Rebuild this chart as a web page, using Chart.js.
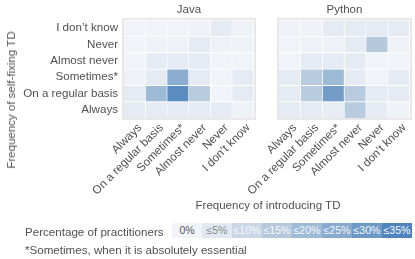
<!DOCTYPE html>
<html lang="en">

<head>
  <meta charset="UTF-8">
  <title>Self-fixing TD heatmap</title>
  <script src="https://cdn.jsdelivr.net/npm/chart.js"></script>
  <style>
    body { margin: 0; width: 415px; height: 259px; background: #fff; font-family: "Liberation Sans", Arial, sans-serif; color: #505050; position: relative; overflow: hidden; }
    canvas { position: absolute; left: 0; top: 0; }
    .txt { position: absolute; white-space: nowrap; font-size: 11.6px; }
    #ytitle { left: 11px; top: 100px; transform: translate(-50%, -50%) rotate(-90deg); font-size: 11.5px; }
    #xtitle { left: 268px; top: 205px; transform: translate(-50%, -50%); font-size: 11.5px; }
    #legTitle { left: 25px; top: 231px; transform: translateY(-50%); }
    #note { left: 25px; top: 249px; transform: translateY(-50%); }
    #legend { position: absolute; left: 172px; top: 223px; display: flex; }
    #legend div { width: 30px; height: 15px; line-height: 15px; text-align: center; font-size: 10.5px; }
  </style>
</head>

<body>
  <canvas id="javaChart" width="415" height="210"></canvas>
  <canvas id="pythonChart" width="415" height="210"></canvas>
  <div class="txt" id="ytitle">Frequency of self-fixing TD</div>
  <div class="txt" id="xtitle">Frequency of introducing TD</div>
  <div class="txt" id="legTitle">Percentage of practitioners</div>
  <div id="legend"></div>
  <div class="txt" id="note">*Sometimes, when it is absolutely essential</div>

  <script>
    // columns: frequency of introducing TD
    const colLabels = ["Always", "On a regular basis", "Sometimes*", "Almost never", "Never", "I don\u2019t know"]
    // rows, top to bottom: frequency of self-fixing TD
    const rowLabels = ["I don\u2019t know", "Never", "Almost never", "Sometimes*", "On a regular basis", "Always"]

    // percentage of practitioners, rows top to bottom
    const javaValues = [
      [0.5, 0.5, 0.5, 1, 4, 1],
      [0.5, 1, 1, 4, 1, 1],
      [0.5, 4, 4, 4, 0.5, 0.5],
      [1, 4, 24, 4, 0.5, 4],
      [4, 20, 33, 14, 0.5, 4],
      [4, 4, 4, 4, 4, 1]
    ]
    const pythonValues = [
      [1, 1, 4, 4, 4, 4],
      [0.5, 1, 1, 4, 15, 1],
      [0.5, 4, 4, 4, 0.5, 0.5],
      [4, 14, 20, 4, 0.5, 4],
      [4, 14, 29, 14, 4, 4],
      [4, 4, 3, 14, 4, 1]
    ]

    const legendBins = ["0%", "\u22645%", "\u226410%", "\u226415%", "\u226420%", "\u226425%", "\u226430%", "\u226435%"]
    const legendLevels = [0, 5, 10, 15, 20, 25, 30, 35]

    // blue colormap, stop every 5%
    const stops = [[241, 244, 249], [226, 232, 241], [203, 215, 230], [181, 200, 220], [158, 187, 214], [135, 170, 206], [110, 153, 198], [78, 132, 187]]
    function colorFor(v) {
      let t = Math.max(0, Math.min(35, v)) / 5
      let i = Math.min(6, Math.floor(t))
      let f = t - i
      let c = stops[i].map((a, k) => Math.round(a + (stops[i + 1][k] - a) * f))
      return 'rgb(' + c.join(',') + ')'
    }

    // legend boxes
    const legendEl = document.getElementById('legend')
    legendBins.forEach((lab, i) => {
      let d = document.createElement('div')
      d.textContent = lab
      d.style.background = colorFor(legendLevels[i])
      d.style.color = i >= 2 ? '#f6f8fb' : (i == 0 ? '#555' : '#888')
      legendEl.appendChild(d)
    })

    const framePlugin = {
      id: 'frame',
      afterDraw(chart) {
        const a = chart.chartArea
        const ctx = chart.ctx
        ctx.save()
        ctx.strokeStyle = '#e8e8e8'
        ctx.lineWidth = 2
        ctx.strokeRect(a.left - 1, a.top - 1, a.right - a.left + 2, a.bottom - a.top + 2)
        ctx.restore()
      }
    }

    function makeChart(id, title, values, padLeft, padRight, yWidth, showY) {
      // stacked bars, first dataset at the bottom
      let datasets = values.slice().reverse().map(row => ({
        data: row.map(() => 1),
        backgroundColor: row.map(colorFor),
        borderColor: '#fff',
        borderWidth: { top: 1, right: 1, bottom: 0, left: 0 },
        borderSkipped: false,
        barPercentage: 1,
        categoryPercentage: 1
      }))

      return new Chart(document.getElementById(id), {
        type: 'bar',
        data: { labels: colLabels, datasets: datasets },
        plugins: [framePlugin],
        options: {
          responsive: false,
          animation: false,
          events: [],
          layout: { padding: { left: padLeft, right: padRight, top: 3, bottom: 0 } },
          plugins: {
            legend: { display: false },
            tooltip: { enabled: false },
            title: {
              display: true,
              text: title,
              fullSize: false,
              color: '#505050',
              font: { family: 'Liberation Sans', size: 11.5, weight: 'normal' },
              padding: { top: 0, bottom: 3 }
            }
          },
          scales: {
            x: {
              stacked: true,
              grid: { display: false, drawTicks: false },
              border: { display: false },
              ticks: {
                autoSkip: false,
                minRotation: 45, maxRotation: 45, padding: 3,
                labelOffset: 5,
                color: '#505050',
                font: { family: 'Liberation Sans', size: 11.6 }
              },
              afterFit: s => { s.height = 92; s.paddingLeft = 0; s.paddingRight = 0 }
            },
            y: {
              stacked: true,
              min: 0, max: 6,
              grid: { display: false, drawTicks: false },
              border: { display: false },
              afterBuildTicks: s => { s.ticks = [0.5, 1.5, 2.5, 3.5, 4.5, 5.5].map(v => ({ value: v })) },
              ticks: {
                display: showY,
                padding: 6,
                color: '#505050',
                font: { family: 'Liberation Sans', size: 11.6 },
                callback: v => rowLabels[5 - Math.floor(v)]
              },
              afterFit: s => { s.width = yWidth }
            }
          }
        }
      })
    }

    makeChart('javaChart', 'Java', javaValues, 0, 161, 124, true)
    makeChart('pythonChart', 'Python', pythonValues, 279, 5, 0, false)
  </script>
</body>

</html>
